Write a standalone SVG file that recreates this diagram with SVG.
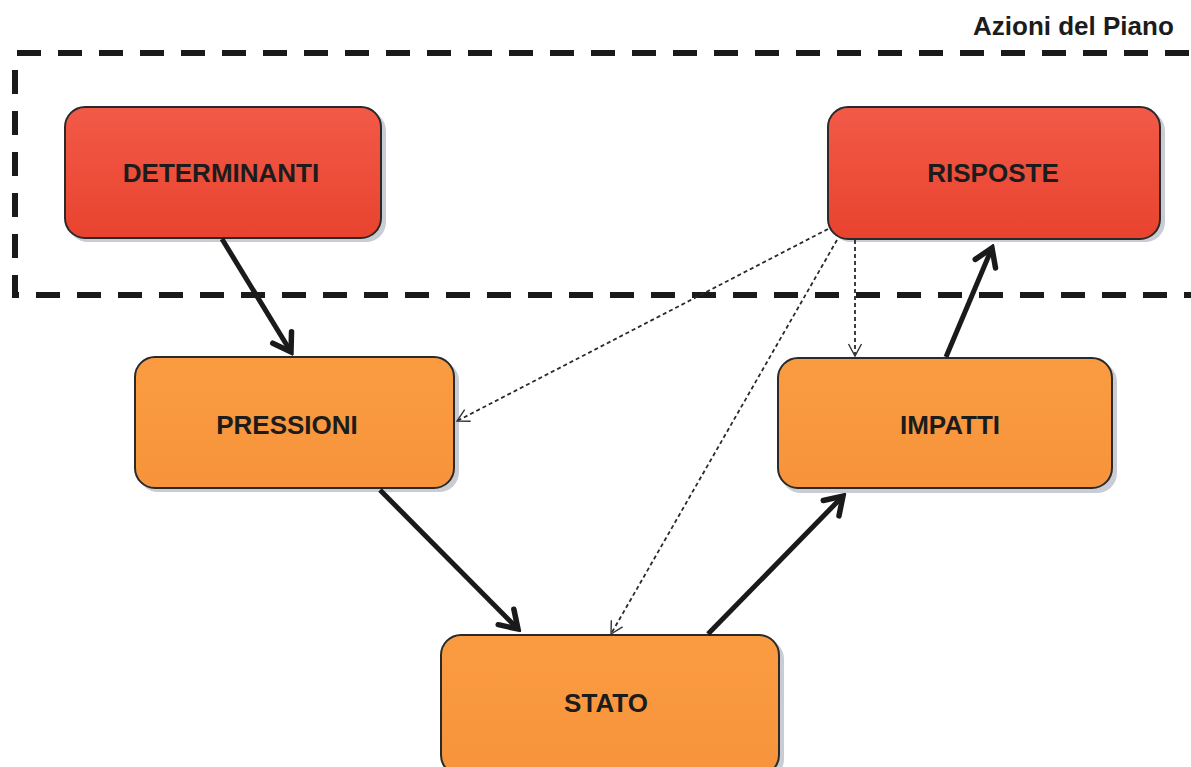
<svg xmlns="http://www.w3.org/2000/svg" width="1191" height="767" viewBox="0 0 1191 767">
<defs>
<linearGradient id="gRed" x1="0" y1="0" x2="0" y2="1">
<stop offset="0" stop-color="#f25a47"/>
<stop offset="1" stop-color="#e8432f"/>
</linearGradient>
<linearGradient id="gOrange" x1="0" y1="0" x2="0" y2="1">
<stop offset="0" stop-color="#fa9b42"/>
<stop offset="1" stop-color="#f7943b"/>
</linearGradient>
<marker id="headSolid" markerUnits="userSpaceOnUse" viewBox="-22 -15 26 30" markerWidth="26" markerHeight="30" refX="0" refY="0" orient="auto">
<path d="M -17 -11 L 0 0 L -17 11" fill="none" stroke="#1a1a1a" stroke-width="5.5" stroke-linecap="round" stroke-linejoin="miter"/>
</marker>
<marker id="headDot" markerUnits="userSpaceOnUse" viewBox="-14 -9 16 18" markerWidth="16" markerHeight="18" refX="0" refY="0" orient="auto">
<path d="M -12 -6.5 L 0 0 L -12 6.5" fill="none" stroke="#333" stroke-width="1.4"/>
</marker>
</defs>
<style>
.box{stroke:#2a2a2a;stroke-width:2}
.shadow{fill:#c9ccd3}
.red{fill:url(#gRed)}
.orange{fill:url(#gOrange)}
.label{font-family:"Liberation Sans",Arial,sans-serif;font-weight:bold;font-size:26px;fill:#1c1c1c;text-anchor:middle}
.title{font-family:"Liberation Sans",Arial,sans-serif;font-weight:bold;font-size:26px;fill:#1c1c1c}
.frame{fill:none;stroke:#1a1a1a;stroke-width:6;stroke-dasharray:24 17}
.solid{fill:none;stroke:#1a1a1a;stroke-width:5;marker-end:url(#headSolid)}
.dotted{fill:none;stroke:#2a2a2a;stroke-width:1.8;stroke-dasharray:4 3;marker-end:url(#headDot)}
</style>
<rect width="1191" height="767" fill="#ffffff"/>

<g id="frame">
<path class="frame" d="M 17 53 L 1200 53 M 15 70 L 15 295 L 1200 295"/>
<text class="title" x="973" y="35">Azioni del Piano</text>
</g>

<g id="node-determinanti">
<rect class="shadow" x="68" y="111" width="318" height="131" rx="20"/>
<rect class="box red" x="65" y="107" width="316" height="131" rx="20"/>
<text class="label" x="221" y="182">DETERMINANTI</text>
</g>

<g id="node-risposte">
<rect class="shadow" x="831" y="111" width="334" height="131" rx="20"/>
<rect class="box red" x="828" y="107" width="332" height="132" rx="20"/>
<text class="label" x="993" y="182">RISPOSTE</text>
</g>

<g id="node-pressioni">
<rect class="shadow" x="138" y="361" width="321" height="131" rx="20"/>
<rect class="box orange" x="135" y="357" width="319" height="131" rx="20"/>
<text class="label" x="287" y="434">PRESSIONI</text>
</g>

<g id="node-impatti">
<rect class="shadow" x="781" y="362" width="336" height="131" rx="20"/>
<rect class="box orange" x="778" y="358" width="334" height="130" rx="20"/>
<text class="label" x="950" y="434">IMPATTI</text>
</g>

<g id="node-stato">
<rect class="shadow" x="444" y="639" width="340" height="140" rx="20"/>
<rect class="box orange" x="441" y="635" width="338" height="140" rx="20"/>
<text class="label" x="606" y="712">STATO</text>
</g>

<g id="connectors">
<line class="solid" x1="222" y1="239" x2="291" y2="352"/>
<line class="solid" x1="380" y1="490" x2="518" y2="629"/>
<line class="solid" x1="708" y1="634" x2="843" y2="496"/>
<line class="solid" x1="946" y1="357" x2="992" y2="248"/>
<line class="dotted" x1="828" y1="229" x2="457" y2="421"/>
<line class="dotted" x1="837" y1="240" x2="611" y2="634"/>
<line class="dotted" x1="855" y1="240" x2="855" y2="356"/>
</g>
</svg>
